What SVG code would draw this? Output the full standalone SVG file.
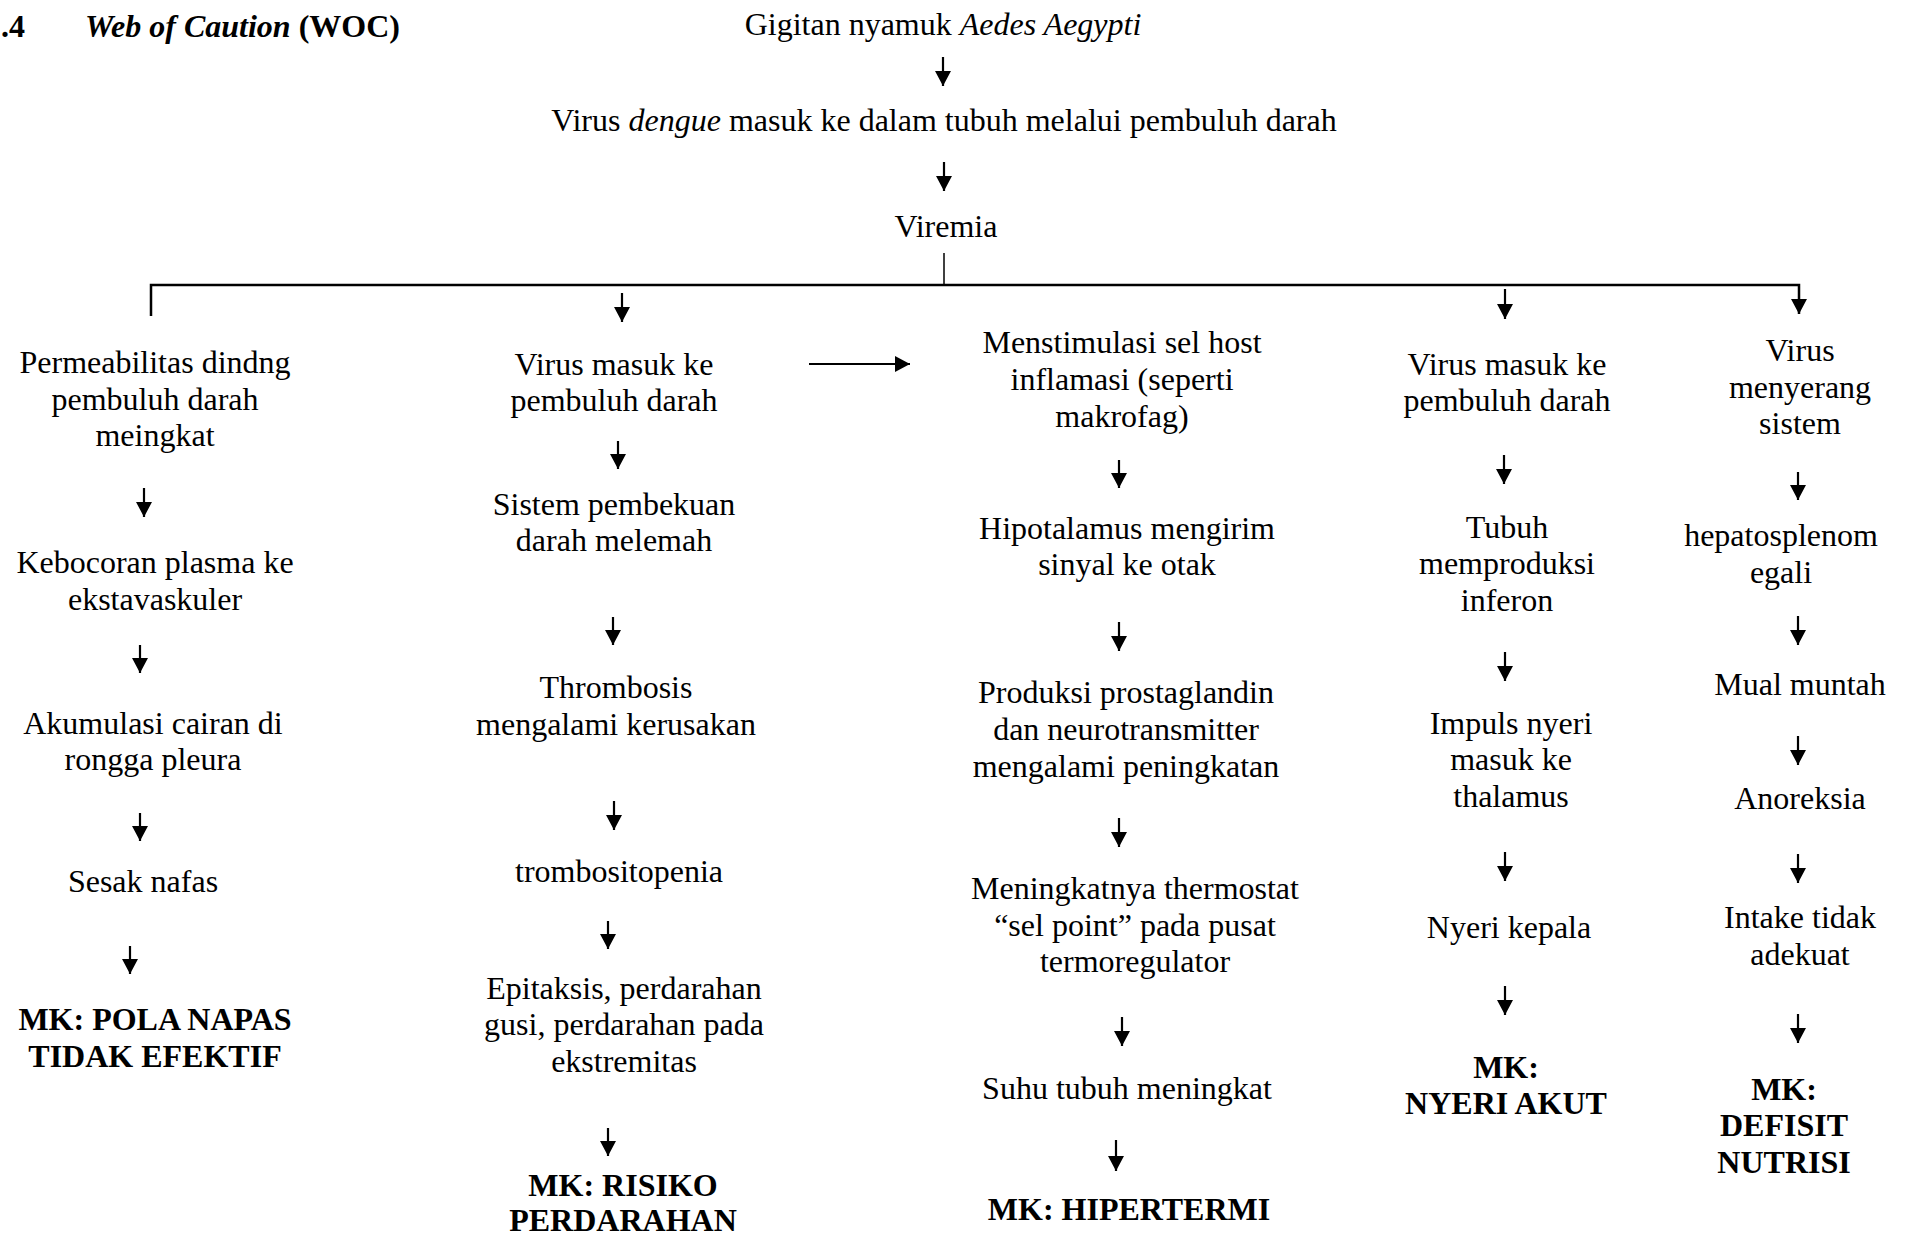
<svg xmlns="http://www.w3.org/2000/svg" width="1908" height="1238" viewBox="0 0 1908 1238">
<style>
text{font-family:"Liberation Serif","Times New Roman",serif;font-size:32px;fill:#000;text-anchor:middle}
.b{font-weight:bold}
.l{text-anchor:start}
.c line,.c path{stroke:#000;stroke-width:2.2;fill:none}
.c .a{marker-end:url(#ah)}
</style>
<defs>
<marker id="ah" viewBox="0 0 15 16" refX="15" refY="8" markerWidth="15" markerHeight="16" markerUnits="userSpaceOnUse" orient="auto" preserveAspectRatio="none">
<path d="M0,0 L15,8 L0,16 z" fill="#000"/>
</marker>
</defs>
<rect width="1908" height="1238" fill="#fff"/>
<g id="title">
<text class="b l" x="1" y="37">.4</text>
<text class="b l" x="85" y="37"><tspan font-style="italic">Web of Caution</tspan> (WOC)</text>
</g>
<g id="n-gigitan"><text x="943" y="35">Gigitan nyamuk <tspan font-style="italic">Aedes Aegypti</tspan></text></g>
<g id="n-virus"><text x="944" y="131">Virus <tspan font-style="italic">dengue</tspan> masuk ke dalam tubuh melalui pembuluh darah</text></g>
<g id="n-viremia"><text x="946" y="237">Viremia</text></g>

<g id="c1-1"><text x="155" y="373">Permeabilitas dindng</text><text x="155" y="410">pembuluh darah</text><text x="155" y="446">meingkat</text></g>
<g id="c1-2"><text x="155" y="573">Kebocoran plasma ke</text><text x="155" y="610">ekstavaskuler</text></g>
<g id="c1-3"><text x="153" y="734">Akumulasi cairan di</text><text x="153" y="770">rongga pleura</text></g>
<g id="c1-4"><text x="143" y="892">Sesak nafas</text></g>
<g id="c1-mk"><text class="b" x="155" y="1030">MK: POLA NAPAS</text><text class="b" x="155" y="1067">TIDAK EFEKTIF</text></g>

<g id="c2-1"><text x="614" y="375">Virus masuk ke</text><text x="614" y="411">pembuluh darah</text></g>
<g id="c2-2"><text x="614" y="515">Sistem pembekuan</text><text x="614" y="551">darah melemah</text></g>
<g id="c2-3"><text x="616" y="698">Thrombosis</text><text x="616" y="735">mengalami kerusakan</text></g>
<g id="c2-4"><text x="619" y="882">trombositopenia</text></g>
<g id="c2-5"><text x="624" y="999">Epitaksis, perdarahan</text><text x="624" y="1035">gusi, perdarahan pada</text><text x="624" y="1072">ekstremitas</text></g>
<g id="c2-mk"><text class="b" x="623" y="1196">MK: RISIKO</text><text class="b" x="623" y="1231">PERDARAHAN</text></g>

<g id="c3-1"><text x="1122" y="353">Menstimulasi sel host</text><text x="1122" y="390">inflamasi (seperti</text><text x="1122" y="427">makrofag)</text></g>
<g id="c3-2"><text x="1127" y="539">Hipotalamus mengirim</text><text x="1127" y="575">sinyal ke otak</text></g>
<g id="c3-3"><text x="1126" y="703">Produksi prostaglandin</text><text x="1126" y="740">dan neurotransmitter</text><text x="1126" y="777">mengalami peningkatan</text></g>
<g id="c3-4"><text x="1135" y="899">Meningkatnya thermostat</text><text x="1135" y="936">“sel point” pada pusat</text><text x="1135" y="972">termoregulator</text></g>
<g id="c3-5"><text x="1127" y="1099">Suhu tubuh meningkat</text></g>
<g id="c3-mk"><text class="b" x="1129" y="1220">MK: HIPERTERMI</text></g>

<g id="c4-1"><text x="1507" y="375">Virus masuk ke</text><text x="1507" y="411">pembuluh darah</text></g>
<g id="c4-2"><text x="1507" y="538">Tubuh</text><text x="1507" y="574">memproduksi</text><text x="1507" y="611">inferon</text></g>
<g id="c4-3"><text x="1511" y="734">Impuls nyeri</text><text x="1511" y="770">masuk ke</text><text x="1511" y="807">thalamus</text></g>
<g id="c4-4"><text x="1509" y="938">Nyeri kepala</text></g>
<g id="c4-mk"><text class="b" x="1506" y="1078">MK:</text><text class="b" x="1506" y="1114">NYERI AKUT</text></g>

<g id="c5-1"><text x="1800" y="361">Virus</text><text x="1800" y="398">menyerang</text><text x="1800" y="434">sistem</text></g>
<g id="c5-2"><text x="1781" y="546">hepatosplenom</text><text x="1781" y="583">egali</text></g>
<g id="c5-3"><text x="1800" y="695">Mual muntah</text></g>
<g id="c5-4"><text x="1800" y="809">Anoreksia</text></g>
<g id="c5-5"><text x="1800" y="928">Intake tidak</text><text x="1800" y="965">adekuat</text></g>
<g id="c5-mk"><text class="b" x="1784" y="1100">MK:</text><text class="b" x="1784" y="1136">DEFISIT</text><text class="b" x="1784" y="1173">NUTRISI</text></g>

<g id="connectors" class="c">
<line class="a" x1="943" y1="57" x2="943" y2="86"/>
<line class="a" x1="944" y1="162" x2="944" y2="191"/>
<line x1="944" y1="253" x2="944" y2="284" style="stroke-width:1.5"/>
<path class="a" d="M151,316 L151,285 L1799,285 L1799,314" style="stroke-width:2.5"/>
<line class="a" x1="622" y1="293" x2="622" y2="322"/>
<line class="a" x1="1505" y1="289" x2="1505" y2="319"/>

<line class="a" x1="144" y1="488" x2="144" y2="517"/>
<line class="a" x1="140" y1="645" x2="140" y2="673"/>
<line class="a" x1="140" y1="813" x2="140" y2="841"/>
<line class="a" x1="130" y1="946" x2="130" y2="974"/>

<line class="a" x1="809" y1="364" x2="910" y2="364"/>
<line class="a" x1="618" y1="441" x2="618" y2="469"/>
<line class="a" x1="613" y1="617" x2="613" y2="645"/>
<line class="a" x1="614" y1="801" x2="614" y2="830"/>
<line class="a" x1="608" y1="921" x2="608" y2="949"/>
<line class="a" x1="608" y1="1128" x2="608" y2="1156"/>

<line class="a" x1="1119" y1="460" x2="1119" y2="488"/>
<line class="a" x1="1119" y1="622" x2="1119" y2="651"/>
<line class="a" x1="1119" y1="818" x2="1119" y2="847"/>
<line class="a" x1="1122" y1="1017" x2="1122" y2="1046"/>
<line class="a" x1="1116" y1="1140" x2="1116" y2="1171"/>

<line class="a" x1="1504" y1="455" x2="1504" y2="484"/>
<line class="a" x1="1505" y1="652" x2="1505" y2="681"/>
<line class="a" x1="1505" y1="852" x2="1505" y2="881"/>
<line class="a" x1="1505" y1="986" x2="1505" y2="1015"/>

<line class="a" x1="1798" y1="472" x2="1798" y2="500"/>
<line class="a" x1="1798" y1="616" x2="1798" y2="645"/>
<line class="a" x1="1798" y1="736" x2="1798" y2="765"/>
<line class="a" x1="1798" y1="854" x2="1798" y2="883"/>
<line class="a" x1="1798" y1="1014" x2="1798" y2="1043"/>
</g>
</svg>
